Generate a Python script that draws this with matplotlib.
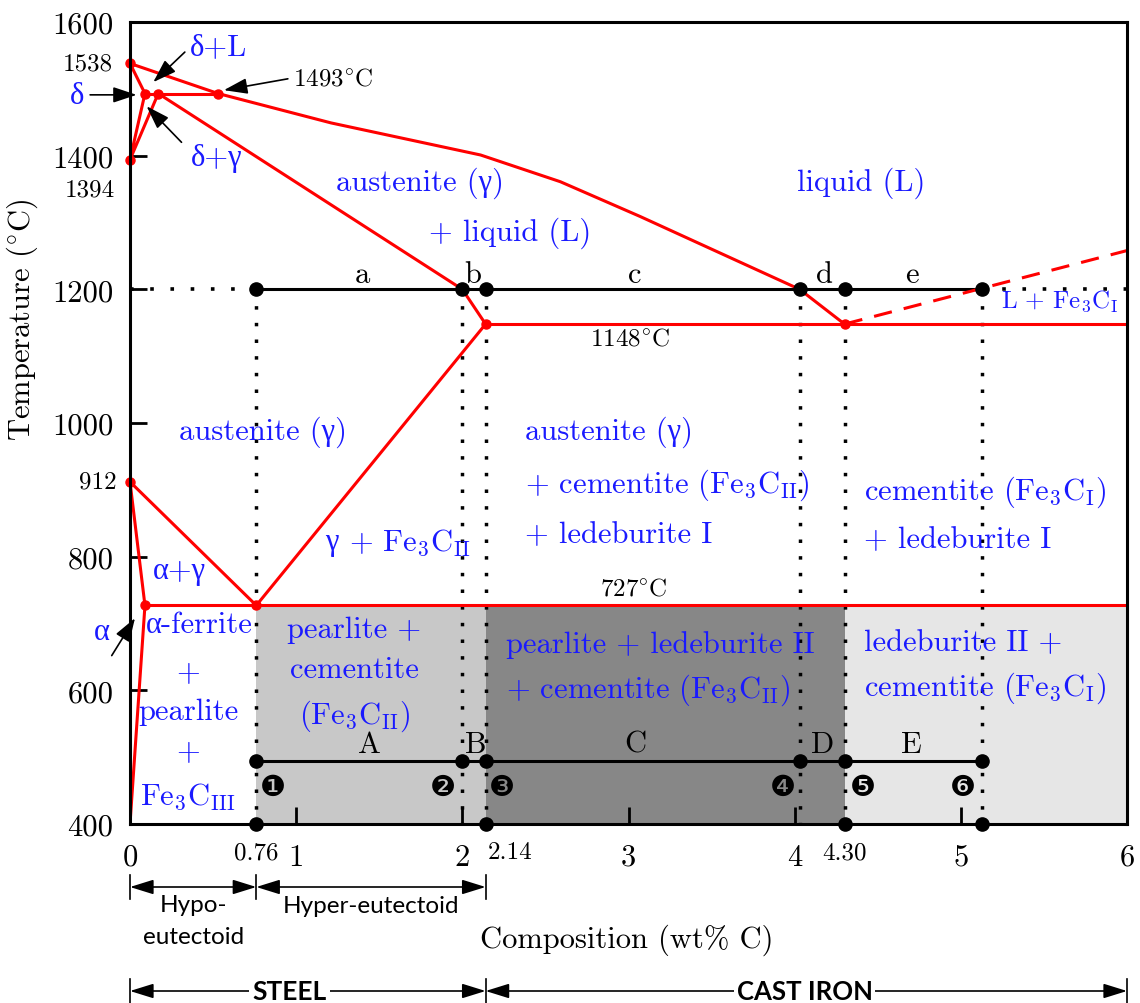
import matplotlib
matplotlib.use("Agg")
import matplotlib.pyplot as plt
import matplotlib.transforms as mtransforms

plt.rcParams["font.family"] = ["cmr10", "Liberation Serif"]
plt.rcParams["mathtext.fontset"] = "cm"
plt.rcParams["axes.unicode_minus"] = False
plt.rcParams["axes.formatter.use_mathtext"] = True

# ---------------- phase-boundary data (wt% C, degC) ----------------
liquidus_c = [0.0, 0.53, 1.21, 2.11, 2.59, 3.07, 3.51, 4.03, 4.30]
liquidus_t = [1538, 1493, 1449, 1401, 1361, 1309, 1259, 1200, 1148]
solidus_c = [0.17, 2.00, 2.14]
solidus_t = [1493, 1200, 1148]
delta_c = [0.0, 0.09, 0.0, 0.17]
delta_t = [1538, 1493, 1394, 1493]
peritectic_c = [0.09, 0.53]
peritectic_t = [1493, 1493]
acm_c = [2.14, 0.76]
acm_t = [1148, 727]
a3_c = [0.0, 0.76]
a3_t = [912, 727]
ferrite_c = [0.0, 0.09, 0.0]
ferrite_t = [912, 727, 400]
eutectoid_c = [0.09, 6.0]
eutectoid_t = [727, 727]
eutectic_c = [2.14, 6.0]
eutectic_t = [1148, 1148]
cem_liquidus_c = [4.30, 6.0]
cem_liquidus_t = [1148, 1258]

red_pts_c = [0.0, 0.09, 0.17, 0.53, 0.0, 0.0, 0.09, 0.76, 2.14, 4.30]
red_pts_t = [1538, 1493, 1493, 1493, 1394, 912, 727, 727, 1148, 1148]

# example alloys and the two cooling levels
alloy_c = [0.76, 2.00, 2.14, 4.03, 4.30, 5.13]
upper_level = 1200
lower_level = 495
base_c = [0.76, 2.14, 4.30, 5.13]
alloy_letters_upper = ["a", "b", "c", "d", "e"]
alloy_letters_upper_c = [1.40, 2.06, 3.04, 4.18, 4.705]
alloy_letters_lower = ["A", "B", "C", "D", "E"]
alloy_letters_lower_c = [1.44, 2.08, 3.04, 4.17, 4.705]
marker_nums = ["\u2776", "\u2777", "\u2778", "\u2779", "\u277a", "\u277b"]
marker_nums_c = [0.86, 1.88, 2.24, 3.93, 4.41, 5.01]
marker_nums_t = 455

# room-temperature bands
band_edges = [0.76, 2.14, 4.30, 6.0]
band_colors = ["#c8c8c8", "#878787", "#e6e6e6"]

xtick_vals = [0, 1, 2, 3, 4, 5, 6]
ytick_vals = [400, 600, 800, 1000, 1200, 1400, 1600]
special_c_labels = ["0.76", "2.14", "4.30"]
special_c_label_pos = [0.76, 2.29, 4.30]

RED = "#ff0000"
BLUE = "#1a1aff"
BIG = 22
SMALL = 18

fig = plt.figure(figsize=(11.4, 10.04), dpi=100)
ax = fig.add_axes([130 / 1140, 1 - 825 / 1004, 997 / 1140, 802 / 1004])
ax.set_xlim(0, 6)
ax.set_ylim(400, 1600)

# shaded bands below the eutectoid
for i in range(len(band_colors)):
    ax.fill_between([band_edges[i], band_edges[i + 1]], 400, 727,
                    color=band_colors[i], lw=0, zorder=0)

# dotted verticals through each alloy
for c in alloy_c:
    ax.plot([c, c], [upper_level, 400], color="k", lw=2.5,
            linestyle=(0, (1, 3.8)), zorder=1)
# dotted continuation of the 1200 line
ax.plot([0, alloy_c[0]], [upper_level] * 2, color="k", lw=2.6,
        linestyle=(0, (1, 4.6)), zorder=1)
ax.plot([alloy_c[-1], 6], [upper_level] * 2, color="k", lw=2.6,
        linestyle=(0, (1, 4.6)), zorder=1)
# solid level lines
ax.plot([alloy_c[0], alloy_c[-1]], [upper_level] * 2, color="k", lw=2.2, zorder=2)
ax.plot([alloy_c[0], alloy_c[-1]], [lower_level] * 2, color="k", lw=2.2, zorder=2)

# phase boundaries
lw_r = 2.2
for cs, ts in [(liquidus_c, liquidus_t), (solidus_c, solidus_t),
               (delta_c, delta_t), (peritectic_c, peritectic_t),
               (acm_c, acm_t), (a3_c, a3_t), (ferrite_c, ferrite_t),
               (eutectoid_c, eutectoid_t), (eutectic_c, eutectic_t)]:
    ax.plot(cs, ts, color=RED, lw=lw_r, zorder=3, solid_joinstyle="round")
ax.plot(cem_liquidus_c, cem_liquidus_t, color=RED, lw=lw_r,
        linestyle=(0, (6, 4)), zorder=3)
ax.plot(red_pts_c, red_pts_t, "o", color=RED, ms=6.5, zorder=4, clip_on=False)

# black alloy markers
ax.plot(alloy_c, [upper_level] * len(alloy_c), "o", color="k", ms=9.5, zorder=5)
ax.plot(alloy_c, [lower_level] * len(alloy_c), "o", color="k", ms=9.5, zorder=5)
ax.plot(base_c, [400] * len(base_c), "o", color="k", ms=9.5, zorder=5, clip_on=False)

for s, c in zip(alloy_letters_upper, alloy_letters_upper_c):
    ax.text(c, 1211, s, fontsize=BIG, ha="center", va="baseline", zorder=6)
for s, c in zip(alloy_letters_lower, alloy_letters_lower_c):
    ax.text(c, 508, s, fontsize=BIG, ha="center", va="baseline", zorder=6)
for s, c in zip(marker_nums, marker_nums_c):
    ax.text(c, marker_nums_t, s, fontsize=21, family="DejaVu Sans",
            ha="center", va="center", zorder=6)

# phase labels
def blue(x, y, s, size=BIG, ha="center"):
    ax.text(x, y, s, color=BLUE, fontsize=size, ha=ha, va="center", zorder=6,
            clip_on=False)

blue(0.53, 1563, "δ+L")
blue(0.52, 1398, "δ+γ")
blue(-0.32, 1491, "δ")
blue(-0.17, 689, "α")
blue(1.745, 1360, "austenite (γ)")
blue(2.29, 1286, "+ liquid (L)")
blue(4.40, 1360, "liquid (L)")
blue(5.24, 1183, r"L + Fe$_3$C$_{\mathrm{I}}$", size=18, ha="left")
blue(0.80, 988, "austenite (γ)")
blue(1.173, 822, "γ", ha="left")
blue(1.318, 822, r"+ Fe$_3$C$_{\mathrm{II}}$", ha="left")
blue(2.38, 988, "austenite (γ)", ha="left")
blue(2.38, 909, r"+ cementite (Fe$_3$C$_{\mathrm{II}}$)", ha="left")
blue(2.38, 834, "+ ledeburite I", ha="left")
blue(4.42, 898, r"cementite (Fe$_3$C$_{\mathrm{I}}$)", ha="left")
blue(4.42, 826, "+ ledeburite I", ha="left")
blue(0.30, 778, "α+γ")
blue(0.42, 699, "α-ferrite")
blue(0.35, 627, "+")
blue(0.35, 569, "pearlite")
blue(0.35, 509, "+")
blue(0.35, 442, r"Fe$_3$C$_{\mathrm{III}}$")
blue(1.35, 692, "pearlite +")
blue(1.35, 631, "cementite")
blue(1.35, 563, r"(Fe$_3$C$_{\mathrm{II}}$)")
blue(2.26, 669, "pearlite + ledeburite II", ha="left")
blue(2.26, 602, r"+ cementite (Fe$_3$C$_{\mathrm{II}}$)", ha="left")
blue(4.42, 672, "ledeburite II +", ha="left")
blue(4.42, 605, r"cementite (Fe$_3$C$_{\mathrm{I}}$)", ha="left")

# temperature notes
ax.text(0.98, 1515, r"1493$^{\circ}$C", fontsize=SMALL, ha="left", va="center")
ax.text(3.01, 1126, r"1148$^{\circ}$C", fontsize=SMALL, ha="center", va="center")
ax.text(3.03, 752, r"727$^{\circ}$C", fontsize=SMALL, ha="center", va="center")

# pointer arrows
arr = dict(arrowstyle="-|>,head_length=0.9,head_width=0.3", color="k",
           lw=1.2, mutation_scale=16, shrinkA=0, shrinkB=0)
for tip, tail in [((0.04, 1491), (-0.24, 1491)),
                  ((0.14, 1510), (0.33, 1555)),
                  ((0.10, 1474), (0.31, 1420)),
                  ((0.565, 1498), (0.95, 1515)),
                  ((0.03, 708), (-0.11, 652))]:
    ax.annotate("", xy=tip, xytext=tail, arrowprops=arr, annotation_clip=False)

# axes styling
for sp in ax.spines.values():
    sp.set_linewidth(2.2)
    sp.set_zorder(7)
ax.set_xticks(xtick_vals)
ax.set_xticklabels([str(v) for v in xtick_vals])
ax.set_yticks(ytick_vals)
ax.set_yticklabels([str(v) for v in ytick_vals])
ax.tick_params(direction="in", length=12, width=2, labelsize=BIG)
ax.tick_params(axis="x", pad=14)
ax.tick_params(axis="y", pad=12)

bx = mtransforms.blended_transform_factory(ax.transData, ax.transAxes)
by = mtransforms.blended_transform_factory(ax.transAxes, ax.transData)
for c, s in zip(special_c_label_pos, special_c_labels):
    ax.text(c, -0.035, s, transform=bx, fontsize=SMALL, ha="center", va="center")
ax.text(-0.017, 1538, "1538", transform=by, fontsize=SMALL, ha="right", va="center")
ax.text(-0.015, 1350, "1394", transform=by, fontsize=SMALL, ha="right", va="center")
ax.text(-0.013, 912, "912", transform=by, fontsize=SMALL, ha="right", va="center")

fig.text(22 / 1140, 1 - 320 / 1004, r"Temperature ($^{\circ}$C)", fontsize=BIG,
         rotation=90, ha="center", va="center")
fig.text(627 / 1140, 1 - 940 / 1004, "Composition (wt% C)", fontsize=BIG,
         ha="center", va="center")

# steel / cast iron range bars
sans = "Lato"
dim = dict(arrowstyle="<|-|>,head_length=0.9,head_width=0.28", color="k",
           lw=1.2, mutation_scale=16, shrinkA=0, shrinkB=0)
def span(x0, x1, yf):
    ax.annotate("", xy=(x0, yf), xytext=(x1, yf), xycoords=bx, textcoords=bx,
                arrowprops=dim, annotation_clip=False)
def bar(x, yf):
    ax.plot([x, x], [yf - 0.015, yf + 0.015], transform=bx, color="k", lw=1.2,
            clip_on=False)

y1 = (825 - 888) / 802
span(0, 0.76, y1)
span(0.76, 2.14, y1)
for x in [0, 0.76, 2.14]:
    bar(x, y1)
ax.text(0.38, (825 - 906) / 802, "Hypo-", transform=bx, fontsize=17.5,
        family=sans, ha="center", va="center")
ax.text(0.38, (825 - 938) / 802, "eutectoid", transform=bx, fontsize=17.5,
        family=sans, ha="center", va="center")
ax.text(1.45, (825 - 907) / 802, "Hyper-eutectoid", transform=bx, fontsize=17.5,
        family=sans, ha="center", va="center")

y2 = (825 - 992) / 802
span(0, 2.14, y2)
span(2.14, 6, y2)
for x in [0, 2.14, 6]:
    bar(x, y2)
ax.text(0.96, y2, "STEEL", transform=bx, fontsize=19, family=sans,
        weight="bold", ha="center", va="center",
        bbox=dict(facecolor="white", edgecolor="none", pad=2))
ax.text(4.06, y2, "CAST IRON", transform=bx, fontsize=18.5, family=sans,
        weight="bold", ha="center", va="center",
        bbox=dict(facecolor="white", edgecolor="none", pad=2))

fig.savefig("out.png", dpi=100, facecolor="white")
